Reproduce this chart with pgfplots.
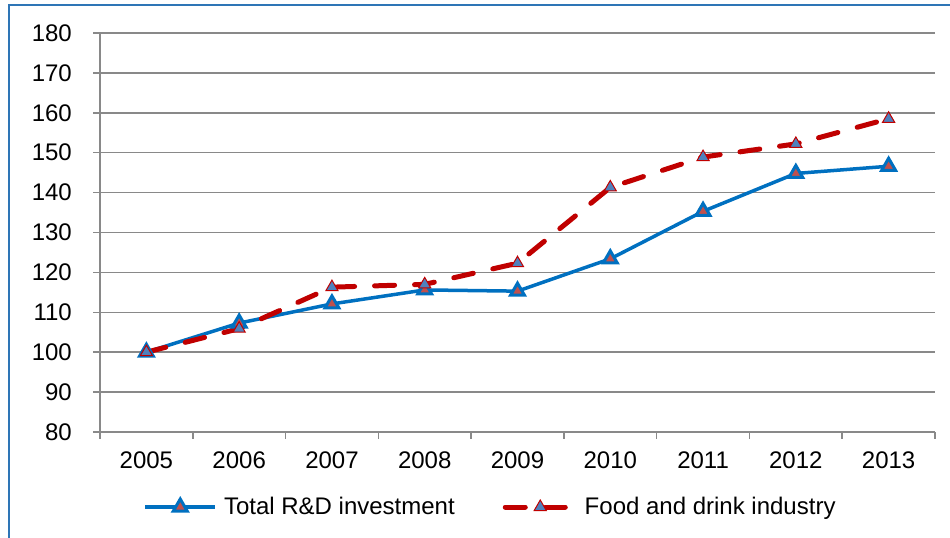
\documentclass[border=0pt]{standalone}
\usepackage{fontspec}
\setmainfont{Liberation Sans}
\usepackage{pgfplots}
\pgfplotsset{compat=1.18}
\definecolor{tblue}{HTML}{0070C0}
\definecolor{fred}{HTML}{C00000}
\definecolor{mfill}{HTML}{C0504D}
\definecolor{mblue}{HTML}{4F81BD}
\definecolor{gridg}{HTML}{898989}
\definecolor{framec}{HTML}{2E75B6}

\begin{document}
\begin{tikzpicture}[x=1bp,y=1bp]
\useasboundingbox (0,0) rectangle (950,538);
\draw[framec, line width=2bp] (9,0) -- (9,533) -- (951,533);
\begin{axis}[
  at={(100bp,106bp)}, anchor=south west,
  scale only axis, width=835bp, height=399bp,
  xmin=0.5, xmax=9.5, ymin=80, ymax=180,
  ytick={80,90,...,180},
  xtick={1,...,9}, xticklabels={2005,2006,2007,2008,2009,2010,2011,2012,2013},
  minor xtick={0.5,1.5,...,9.5},
  axis x line*=bottom, axis y line*=left,
  axis line style={gridg, line width=1.5bp, -},
  tick align=outside,
  major tick length=7bp, minor tick length=7bp,
  every tick/.style={gridg, line width=1.5bp},
  major x tick style={draw=none},
  ymajorgrids, grid style={gridg, line width=1.5bp},
  /pgf/number format/assume math mode=true,
  /pgf/number format/1000 sep={},
  ticklabel style={font=\fontsize{24bp}{28bp}\selectfont},
  yticklabel style={anchor=east, inner sep=0pt, xshift=-21bp},
  xticklabel style={anchor=north, inner sep=0pt, yshift=-13bp},
  legend columns=2,
  legend cell align=left,
  legend style={draw=none, fill=none, at={(0.4677,-0.188)}, anchor=center,
    font=\fontsize{24bp}{28bp}\selectfont,
    /tikz/every odd column/.append style={column sep=5bp},
    /tikz/every even column/.append style={column sep=46bp}},
  legend image code/.code={\draw[mark repeat=2,mark phase=2,#1]
    plot coordinates {(0bp,0bp) (35bp,0bp) (70bp,0bp)};},
]
\addplot[tblue, line width=3.5bp, mark=triangle*, mark size=8bp,
  mark options={draw=tblue, fill=mfill, line width=3bp}]
 coordinates {(1,100) (2,107.3) (3,112.1) (4,115.6) (5,115.3)
              (6,123.4) (7,135.3) (8,144.8) (9,146.6)};
\addplot[fred, line width=5bp, dash pattern=on 20bp off 20bp, line cap=round,
  mark=triangle*, mark size=7bp,
  mark options={solid, draw=fred, fill=mblue, line width=1bp}]
 coordinates {(1,100) (2,105.9) (3,116.3) (4,117.0) (5,122.3)
              (6,141.3) (7,148.9) (8,152.2) (9,158.5)};
\legend{Total R\&D investment,Food and drink industry}
\end{axis}
\end{tikzpicture}
\end{document}
